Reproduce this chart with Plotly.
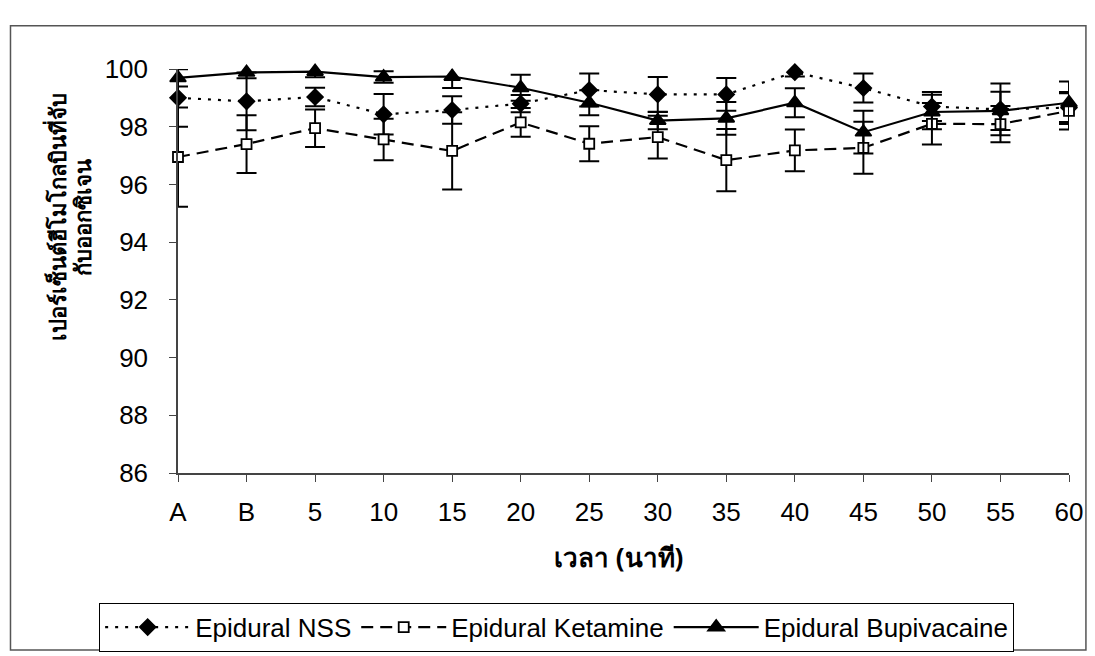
import plotly.graph_objects as go

categories = ["A", "B", "5", "10", "15", "20", "25", "30", "35", "40", "45", "50", "55", "60"]

nss = [99.0, 98.88, 99.03, 98.43, 98.58, 98.8, 99.27, 99.12, 99.12, 99.89, 99.34, 98.7, 98.6, 98.66]
nss_err = [1.0, 1.0, 0.32, 0.7, 0.48, 0.3, 0.57, 0.6, 0.57, 0.15, 0.5, 0.5, 0.9, 0.5]

ket = [96.95, 97.4, 97.95, 97.56, 97.16, 98.15, 97.41, 97.64, 96.84, 97.18, 97.27, 98.1, 98.09, 98.55]
ket_err = [1.72, 1.0, 0.65, 0.72, 1.34, 0.5, 0.61, 0.74, 1.08, 0.72, 0.9, 0.72, 0.63, 0.65]

bup = [99.69, 99.88, 99.91, 99.72, 99.74, 99.35, 98.83, 98.21, 98.29, 98.83, 97.81, 98.51, 98.55, 98.83]
bup_err = [0.3, 0.2, 0.2, 0.2, 0.4, 0.45, 0.43, 0.3, 0.57, 0.5, 0.74, 0.6, 0.66, 0.74]

series_names = ["Epidural NSS", "Epidural Ketamine", "Epidural Bupivacaine"]
y_title_1 = "เปอร์เซ็นต์ฮีโมโกลบินที่จับ"
y_title_2 = "กับออกซิเจน"
x_title = "เวลา (นาที)"

FONT = "Liberation Sans, Arial, sans-serif"
THAI = "Noto Sans, sans-serif"

fig = go.Figure()

def add(y, err, name, dash, symbol, size, fill):
    fig.add_trace(go.Scatter(
        x=categories, y=y, name=name, mode="lines+markers", cliponaxis=False,
        line=dict(color="black", width=2.2, dash=dash),
        marker=dict(symbol=symbol, size=size, color=fill,
                    line=dict(color="black", width=1.8)),
        error_y=dict(type="data", array=err, visible=True, color="black",
                     thickness=2, width=10),
    ))

add(nss, nss_err, series_names[0], "3px,7px", "diamond", 12, "black")
add(ket, ket_err, series_names[1], "12px,7px", "square", 10, "white")
add(bup, bup_err, series_names[2], "solid", "triangle-up", 14, "black")

fig.update_layout(
    width=1087, height=656,
    margin=dict(l=170, r=24, t=61, b=184),
    paper_bgcolor="white", plot_bgcolor="white",
    font=dict(family=FONT, size=26, color="black"),
    showlegend=True,
    legend=dict(orientation="h", x=-0.0885, y=-0.321, xanchor="left", yanchor="top",
                bordercolor="black", borderwidth=1, font=dict(size=26),
                bgcolor="white", itemwidth=85, tracegroupgap=0),
    xaxis=dict(type="category", range=[0, 13], showline=True, linecolor="#444",
               linewidth=1.5, ticks="outside", ticklen=7, tickcolor="#444",
               showgrid=False, zeroline=False, tickfont=dict(size=26),
               ticklabelstandoff=8),
    yaxis=dict(range=[86, 100], dtick=2, showline=True, linecolor="#444",
               linewidth=1.5, ticks="outside", ticklen=7, tickcolor="#444",
               showgrid=False, zeroline=False, tickfont=dict(size=26),
               ticklabelstandoff=16),
)

fig.add_annotation(text="<b>" + y_title_1 + "</b>", xref="paper", yref="paper",
                   x=-0.135, y=0.633, textangle=-90, showarrow=False,
                   xanchor="center", yanchor="middle",
                   font=dict(size=22, family=THAI))
fig.add_annotation(text="<b>" + y_title_2 + "</b>", xref="paper", yref="paper",
                   x=-0.107, y=0.633, textangle=-90, showarrow=False,
                   xanchor="center", yanchor="middle",
                   font=dict(size=22, family=THAI))
fig.add_annotation(text="<b>" + x_title + "</b>", xref="paper", yref="paper",
                   x=0.494, y=-0.207, showarrow=False,
                   xanchor="center", yanchor="middle",
                   font=dict(size=26, family=THAI))

fig.add_shape(type="rect", xref="paper", yref="paper",
              x0=-0.188, x1=1.019, y0=-0.438, y1=1.107,
              line=dict(color="#555", width=1.5))

fig.write_html("out.html")
